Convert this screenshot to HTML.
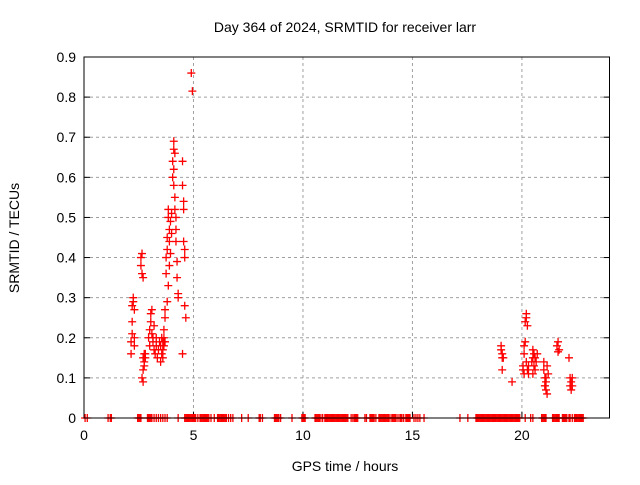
<!DOCTYPE html>
<html><head><meta charset="utf-8"><style>
body{margin:0;background:#fff;width:640px;height:480px;overflow:hidden;font-family:"Liberation Sans",sans-serif}
</style></head><body>
<svg id="chart" width="640" height="480" font-family="Liberation Sans, sans-serif" font-size="14"></svg>
<script>
const xTicks=[0,5,10,15,20];
const yTicks=[0,0.1,0.2,0.3,0.4,0.5,0.6,0.7,0.8,0.9];
const yTickLabels=["0","0.1","0.2","0.3","0.4","0.5","0.6","0.7","0.8","0.9"];
const pointHours=[2.15,2.15,2.2,2.2,2.2,2.25,2.25,2.3,2.3,2.3,
2.6,2.6,2.65,2.65,2.65,2.7,2.7,2.7,2.75,2.75,2.75,2.8,2.8,2.7,
2.95,3.0,3.0,3.05,3.05,3.1,3.1,3.15,3.15,3.2,3.2,3.25,3.3,3.3,3.35,3.4,3.45,
3.5,3.5,3.55,3.55,3.6,3.6,3.65,3.65,3.7,3.7,3.6,3.65,3.7,
3.75,3.75,3.8,3.8,3.85,3.85,3.9,3.9,3.95,3.95,4.0,4.0,3.8,3.85,3.9,
4.05,4.05,4.1,4.1,4.1,4.15,4.15,4.2,4.2,4.2,4.25,4.25,4.3,4.3,4.1,4.15,
4.5,4.5,4.55,4.55,4.55,4.6,4.6,4.6,4.65,4.5,
4.9,4.95,
19.05,19.05,19.1,19.1,19.15,19.1,19.55,
20.05,20.05,20.1,20.1,20.15,20.15,20.2,20.2,20.25,20.25,20.3,20.3,20.1,20.2,
20.45,20.5,20.5,20.55,20.55,20.6,20.6,20.65,20.7,20.5,
21.0,21.0,21.05,21.05,21.1,21.1,21.15,21.15,21.2,21.05,21.1,
21.6,21.65,21.7,21.65,
22.15,22.2,22.2,22.25,22.3,22.25,22.3];
const pointValues=[0.16,0.19,0.21,0.24,0.28,0.29,0.3,0.27,0.18,0.2,
0.38,0.4,0.41,0.36,0.1,0.09,0.12,0.15,0.14,0.16,0.13,0.15,0.16,0.35,
0.2,0.22,0.18,0.24,0.26,0.27,0.21,0.2,0.19,0.17,0.23,0.16,0.18,0.2,0.15,0.17,0.19,
0.14,0.18,0.16,0.2,0.17,0.19,0.18,0.2,0.25,0.27,0.15,0.22,0.19,
0.36,0.4,0.42,0.45,0.5,0.52,0.47,0.44,0.41,0.49,0.51,0.46,0.29,0.33,0.38,
0.6,0.64,0.67,0.69,0.62,0.55,0.52,0.5,0.47,0.44,0.39,0.35,0.31,0.3,0.58,0.66,
0.64,0.58,0.54,0.52,0.44,0.42,0.4,0.28,0.25,0.16,
0.86,0.815,
0.17,0.18,0.16,0.15,0.15,0.12,0.09,
0.12,0.13,0.16,0.18,0.19,0.24,0.25,0.26,0.23,0.12,0.13,0.11,0.11,0.14,
0.14,0.15,0.17,0.16,0.13,0.15,0.12,0.14,0.16,0.11,
0.12,0.14,0.1,0.08,0.09,0.07,0.06,0.13,0.11,0.08,0.1,
0.18,0.19,0.17,0.165,
0.15,0.1,0.08,0.09,0.1,0.07,0.08];
const zeroHours=[0.05,0.15,1.1,1.2,1.25,2.45,2.5,2.55,2.6,2.9,2.95,3.0,3.05,3.1,3.2,3.3,3.4,3.5,3.6,3.7,3.8,
4.3,4.6,4.65,4.7,4.75,4.8,4.85,4.9,4.95,5.0,5.05,5.1,5.2,5.3,5.35,5.4,5.45,5.5,5.55,5.6,5.65,5.7,5.8,5.95,6.1,6.15,6.2,6.25,6.3,6.35,6.4,6.45,6.5,6.6,6.7,6.8,7.2,7.5,8.0,8.05,8.15,
8.7,8.75,8.8,8.85,8.9,8.98,9.5,9.95,10.0,10.05,10.1,10.55,10.6,10.65,10.7,10.75,10.82,10.9,11.0,11.05,11.1,11.15,11.2,11.25,11.3,11.35,11.4,11.45,11.5,11.55,11.6,11.65,11.7,11.75,11.8,11.85,11.9,11.95,12.0,12.05,
12.2,12.28,12.35,12.4,12.45,12.5,12.83,12.9,13.06,13.1,13.15,13.2,13.25,13.33,13.47,13.5,13.55,13.6,13.65,13.7,13.75,13.8,13.85,13.9,13.97,14.06,14.1,14.15,14.2,14.25,14.34,14.43,14.48,14.52,14.6,14.7,14.75,14.8,14.85,14.89,
15.07,15.16,15.25,15.34,15.53,17.17,17.53,17.9,17.95,18.0,18.05,18.1,18.15,18.2,18.25,18.3,18.35,18.4,18.45,18.5,18.55,18.6,18.65,18.7,18.75,18.8,18.85,18.9,18.95,19.0,19.05,19.1,19.15,19.2,19.25,19.3,19.35,19.4,19.45,19.5,19.55,19.6,19.65,19.7,19.75,19.8,19.85,19.9,
20.15,20.4,20.5,20.9,20.95,21.0,21.05,21.1,21.4,21.45,21.5,21.55,21.6,21.65,21.7,21.85,21.9,21.95,22.0,22.05,22.15,22.2,22.3,22.4,22.45,22.5,22.55,22.6,22.65,22.7,22.75,22.8];
const L=84,R=609.5,T=57,B=418,XMAX=24,YMAX=0.9;
const sx=h=>L+(R-L)*h/XMAX, sy=v=>B-(B-T)*v/YMAX;
const svg=document.getElementById('chart');const NS='http://www.w3.org/2000/svg';
function mk(tag,attrs,parent){const e=document.createElementNS(NS,tag);for(const k in attrs)e.setAttribute(k,attrs[k]);(parent||svg).appendChild(e);return e;}
const grid=mk('g',{});


yTicks.forEach((v,i)=>{
 if(i>0&&i<yTicks.length-1){const g=mk('line',{x1:L,x2:R,y1:sy(v),y2:sy(v),stroke:'#a0a0a0','stroke-dasharray':'3,3'},grid);}
 const t=mk('line',{x1:L,x2:L+6,y1:sy(v),y2:sy(v),stroke:'#000'});
 const t2=mk('line',{x1:R-6,x2:R,y1:sy(v),y2:sy(v),stroke:'#000'});
 const lb=mk('text',{x:L-8,y:sy(v)+5,'text-anchor':'end'});lb.textContent=yTickLabels[i];
 
});
xTicks.forEach(h=>{
 if(h>0){const g=mk('line',{x1:sx(h),x2:sx(h),y1:T,y2:B,stroke:'#a0a0a0','stroke-dasharray':'3,3'},grid);}
 const t=mk('line',{x1:sx(h),x2:sx(h),y1:B,y2:B-6,stroke:'#000'});
 const lb=mk('text',{x:sx(h),y:B+22,'text-anchor':'middle'});lb.textContent=String(h);
 
});
const pts=mk('g',{stroke:'#ff0000','stroke-width':1.3});


function plus(h,v){const x=sx(h),y=sy(v);const p=mk('path',{d:`M${x-4},${y}H${x+4}M${x},${y-4}V${y+4}`},pts);}
pointHours.forEach((h,i)=>plus(h,pointValues[i]));
zeroHours.forEach(h=>plus(h,0));
const fr=mk('rect',{x:L,y:T,width:R-L,height:B-T,fill:'none',stroke:'#000'});

const ti=mk('text',{x:345,y:32,'text-anchor':'middle'});ti.textContent='Day 364 of 2024, SRMTID for receiver larr';

const xt=mk('text',{x:345,y:471,'text-anchor':'middle'});xt.textContent='GPS time / hours';

const yt=mk('text',{x:0,y:0,'text-anchor':'middle',transform:'translate(19,238) rotate(-90)'});yt.textContent='SRMTID / TECUs';

</script>
</body></html>
